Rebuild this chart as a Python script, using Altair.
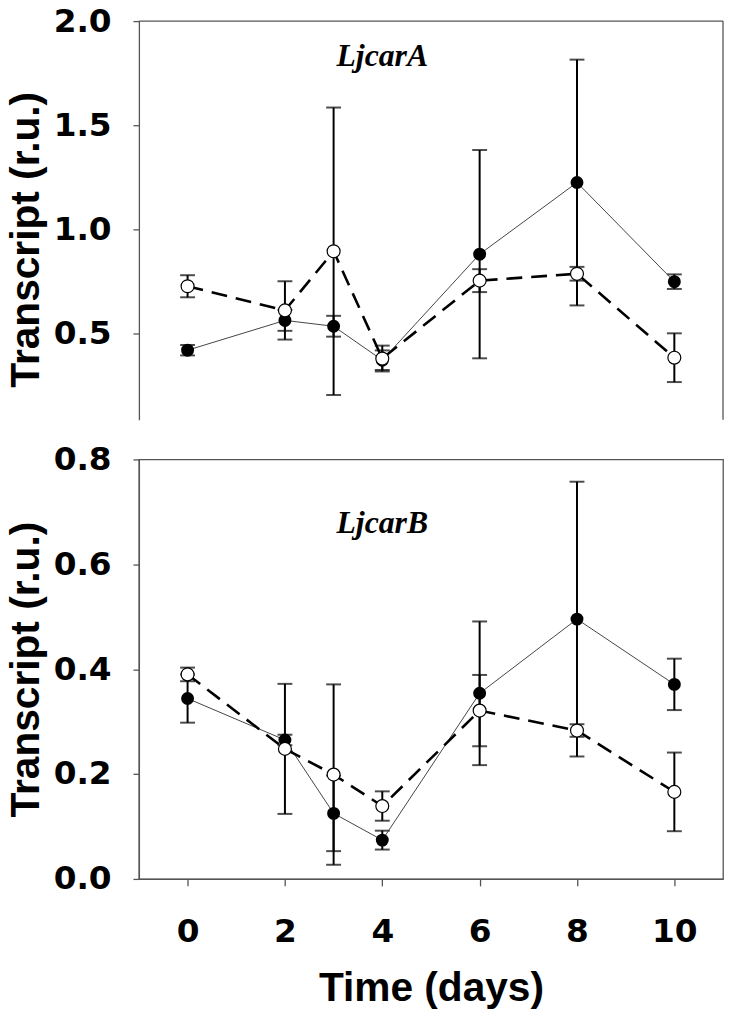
import altair as alt
import pandas as pd

days = [0, 2, 3, 4, 6, 8, 10]

# LjcarA (top panel)
a_filled_mean = [0.42, 0.563, 0.535, 0.372, 0.881, 1.225, 0.749]
a_filled_err = [0.025, 0.05, 0.05, 0.047, 0.50, 0.59, 0.035]
a_open_mean = [0.727, 0.611, 0.895, 0.380, 0.754, 0.787, 0.384]
a_open_err = [0.053, 0.14, 0.69, 0.062, 0.055, 0.033, 0.117]

# LjcarB (bottom panel)
b_filled_mean = [0.344, 0.265, 0.125, 0.074, 0.354, 0.4955, 0.371]
b_filled_err = [0.046, 0.01, 0.072, 0.018, 0.137, 0.262, 0.049]
b_open_mean = [0.390, 0.248, 0.199, 0.139, 0.321, 0.283, 0.166]
b_open_err = [0.013, 0.124, 0.172, 0.028, 0.068, 0.012, 0.075]

x_ticks = [0, 2, 4, 6, 8, 10]
a_y_ticks = [0.5, 1.0, 1.5, 2.0]
b_y_ticks = [0.0, 0.2, 0.4, 0.6, 0.8]

W = 589
H_TOP = 402
H_BOT = 423
AXIS_GRAY = "#555555"
FONT = "Liberation Sans"
TICK_FONT = "DejaVu Sans"


def make_df(fm, fe, om, oe):
    rows = []
    for d, m, e in zip(days, fm, fe):
        rows.append({"day": d, "mean": m, "lo": m - e, "hi": m + e, "series": "filled"})
    for d, m, e in zip(days, om, oe):
        rows.append({"day": d, "mean": m, "lo": m - e, "hi": m + e, "series": "open"})
    return pd.DataFrame(rows)


def y_axis(ticks, title_y=None):
    kw = dict(
        values=ticks, format=".1f", title="Transcript (r.u.)", grid=False,
        domainColor=AXIS_GRAY, tickColor=AXIS_GRAY, tickSize=6,
        labelFont=TICK_FONT, labelFontSize=33, labelFontWeight="bold", labelColor="black",
        labelPadding=22, titleFont=FONT, titleFontSize=41, titleFontWeight="bold",
        titleColor="black", titlePadding=6,
    )
    if title_y is not None:
        kw["titleY"] = title_y
    return alt.Axis(**kw)


def panel(df, domain, yticks, height, label, label_y, bottom):
    if bottom:
        xax = alt.Axis(
            values=x_ticks, format="d", title="Time (days)", grid=False,
            domainColor=AXIS_GRAY, tickColor=AXIS_GRAY, tickSize=7,
            labelFont=TICK_FONT, labelFontSize=33, labelFontWeight="bold", labelColor="black",
            labelPadding=30, titleFont=FONT, titleFontSize=41, titleFontWeight="bold",
            titleColor="black", titlePadding=21,
        )
        yax = y_axis(yticks)
    else:
        xax = None
        yax = y_axis(yticks, title_y=220)
    xs = alt.Scale(domain=[-1, 11], nice=False, zero=False)
    ys = alt.Scale(domain=domain, nice=False, zero=False)
    base = alt.Chart(df)
    X = alt.X("day:Q", scale=xs, axis=xax)

    err = base.mark_rule(color="black", strokeWidth=2).encode(
        x=X, y=alt.Y("lo:Q", scale=ys, axis=yax), y2="hi:Q")
    cap_lo = base.mark_tick(color="black", orient="horizontal", size=15, thickness=2).encode(
        x=X, y=alt.Y("lo:Q", scale=ys, axis=yax))
    cap_hi = base.mark_tick(color="black", orient="horizontal", size=15, thickness=2).encode(
        x=X, y=alt.Y("hi:Q", scale=ys, axis=yax))
    line_f = base.transform_filter(alt.datum.series == "filled").mark_line(
        color="#444444", strokeWidth=1).encode(x=X, y=alt.Y("mean:Q", scale=ys, axis=yax))
    line_o = base.transform_filter(alt.datum.series == "open").mark_line(
        color="black", strokeWidth=2.6, strokeDash=[16, 9]).encode(
        x=X, y=alt.Y("mean:Q", scale=ys, axis=yax))
    pt_f = base.transform_filter(alt.datum.series == "filled").mark_point(
        shape="circle", filled=True, color="black", size=170, opacity=1).encode(
        x=X, y=alt.Y("mean:Q", scale=ys, axis=yax))
    pt_o = base.transform_filter(alt.datum.series == "open").mark_point(
        shape="circle", filled=True, fill="white", stroke="black", strokeWidth=1.2,
        size=170, opacity=1).encode(x=X, y=alt.Y("mean:Q", scale=ys, axis=yax))

    lab_df = pd.DataFrame({"day": [4], "yv": [label_y], "txt": [label]})
    lab = alt.Chart(lab_df).mark_text(
        font="Liberation Serif", fontSize=32, fontWeight="bold", fontStyle="italic",
        color="black", align="center", baseline="alphabetic").encode(
        x=X, y=alt.Y("yv:Q", scale=ys, axis=yax), text="txt:N")

    layers = [err, cap_lo, cap_hi, line_f, line_o, pt_f, pt_o, lab]
    if bottom:
        ch = alt.layer(*layers).properties(
            width=W, height=height,
            view=alt.ViewConfig(stroke=AXIS_GRAY, strokeWidth=1.3))
    else:
        top_rule = alt.Chart(lab_df).mark_rule(color=AXIS_GRAY, strokeWidth=1.3).encode(
            x=alt.value(0), x2=alt.value(W), y=alt.value(0))
        right_rule = alt.Chart(lab_df).mark_rule(color=AXIS_GRAY, strokeWidth=1.3).encode(
            x=alt.value(W), y=alt.value(0), y2=alt.value(height))
        ch = alt.layer(top_rule, right_rule, *layers).properties(
            width=W, height=height,
            view=alt.ViewConfig(stroke="transparent"))
    return ch


top = panel(make_df(a_filled_mean, a_filled_err, a_open_mean, a_open_err),
            [0.086, 2.0], a_y_ticks, H_TOP, "LjcarA", 1.786, False)
bot = panel(make_df(b_filled_mean, b_filled_err, b_open_mean, b_open_err),
            [0.0, 0.8], b_y_ticks, H_BOT, "LjcarB", 0.66, True)

chart = alt.vconcat(top, bot, spacing=21).properties(
    padding={"left": -4, "top": -8, "right": 0, "bottom": 0},
    background="white",
).configure_axis(domainWidth=1.3, tickWidth=1.3)

chart.save("out.html", embed_options={"renderer": "svg", "actions": False})
